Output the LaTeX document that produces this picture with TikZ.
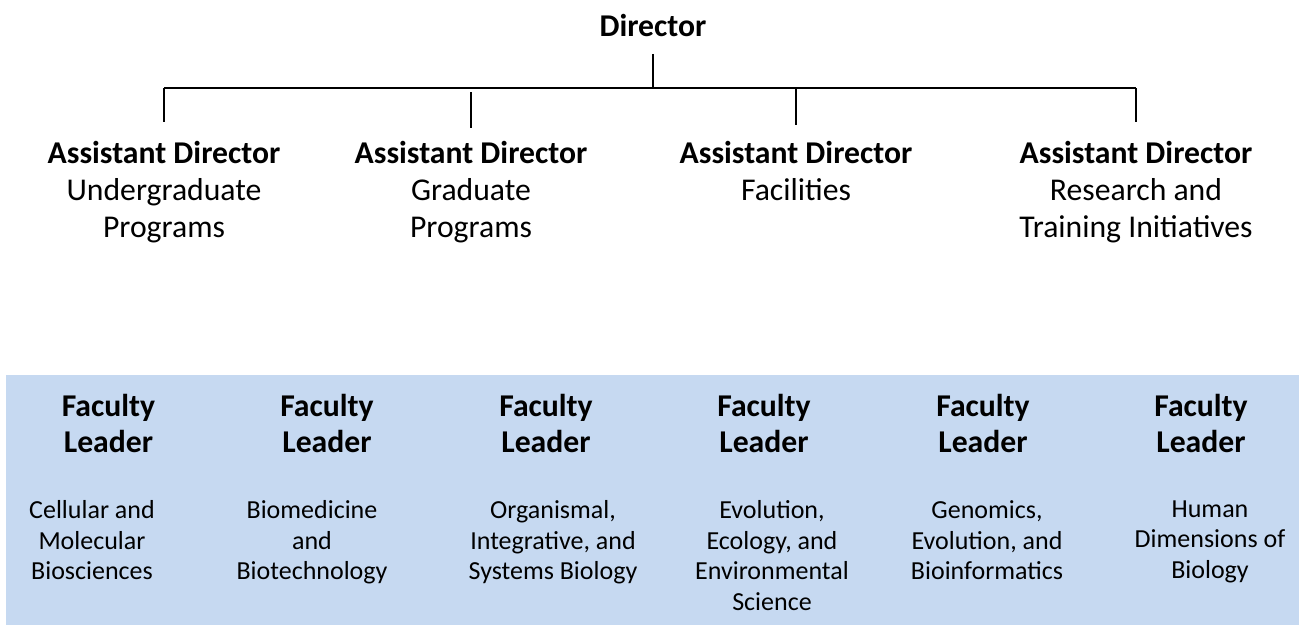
\documentclass[tikz,border=0pt]{standalone}
\usepackage{fontspec}
\setmainfont{Carlito}
\usetikzlibrary{positioning}
\definecolor{panelblue}{RGB}{198,217,241}
\tikzset{
  headbox/.style={anchor=north, align=center, inner sep=0pt, font=\fontsize{31.7}{37}\selectfont, execute at begin node=\vphantom{Ml}},
  leadbox/.style={anchor=north, align=center, inner sep=0pt, font=\bfseries\fontsize{31.7}{35.5}\selectfont, execute at begin node=\vphantom{Ml}},
  areabox/.style={anchor=north, align=center, inner sep=0pt, font=\fontsize{26}{30.5}\selectfont, execute at begin node=\vphantom{Ml}},
  orgline/.style={draw=black, line width=1.3pt},
}
\begin{document}
\begin{tikzpicture}[x=1pt, y=-1pt]
    \useasboundingbox (0,0) rectangle (1299,625);
    \fill[panelblue] (6,375) rectangle (1299,625);
    % top of the chart
    \node[headbox] (director) at (653,14) {\textbf{Director}};
    \node[headbox] (asst1) at (164,141) {\textbf{Assistant Director}\\Undergraduate\\Programs};
    \node[headbox] (asst2) at (471,141) {\textbf{Assistant Director}\\Graduate\\Programs};
    \node[headbox] (asst3) at (796,141) {\textbf{Assistant Director}\\Facilities};
    \node[headbox] (asst4) at (1136,141) {\textbf{Assistant Director}\\Research and\\Training Initiatives};
    \coordinate (hub) at (653,88);
    \draw[orgline, shorten <=17pt] (director.south) -- (hub);
    \draw[orgline] (asst1.north |- hub) -- (asst4.north |- hub);
    \draw[orgline, shorten >=19pt] (asst1.north |- hub) -- (asst1.north);
    \draw[orgline, shorten <=4pt, shorten >=13pt] (asst2.north |- hub) -- (asst2.north);
    \draw[orgline, shorten >=16pt] (asst3.north |- hub) -- (asst3.north);
    \draw[orgline, shorten >=19pt] (asst4.north |- hub) -- (asst4.north);
    % faculty leaders
    \node[leadbox] (lead1) at (108.5,394.5) {Faculty\\Leader};
    \node[leadbox] (lead2) at (327,394.5) {Faculty\\Leader};
    \node[leadbox] (lead3) at (546,394.5) {Faculty\\Leader};
    \node[leadbox] (lead4) at (764,394.5) {Faculty\\Leader};
    \node[leadbox] (lead5) at (983,394.5) {Faculty\\Leader};
    \node[leadbox] (lead6) at (1201,394.5) {Faculty\\Leader};
    \node[areabox] (area1) at (92,500.5) {Cellular and\\Molecular\\Biosciences};
    \node[areabox] (area2) at (312,500.5) {Biomedicine\\and\\Biotechnology};
    \node[areabox] (area3) at (553,500.5) {Organismal,\\Integrative, and\\Systems Biology};
    \node[areabox] (area4) at (772,500.5) {Evolution,\\Ecology, and\\Environmental\\Science};
    \node[areabox] (area5) at (987,500.5) {Genomics,\\Evolution, and\\Bioinformatics};
    \node[areabox] (area6) at (1210,500.5) {Human\\Dimensions of\\Biology};
\end{tikzpicture}
\end{document}
